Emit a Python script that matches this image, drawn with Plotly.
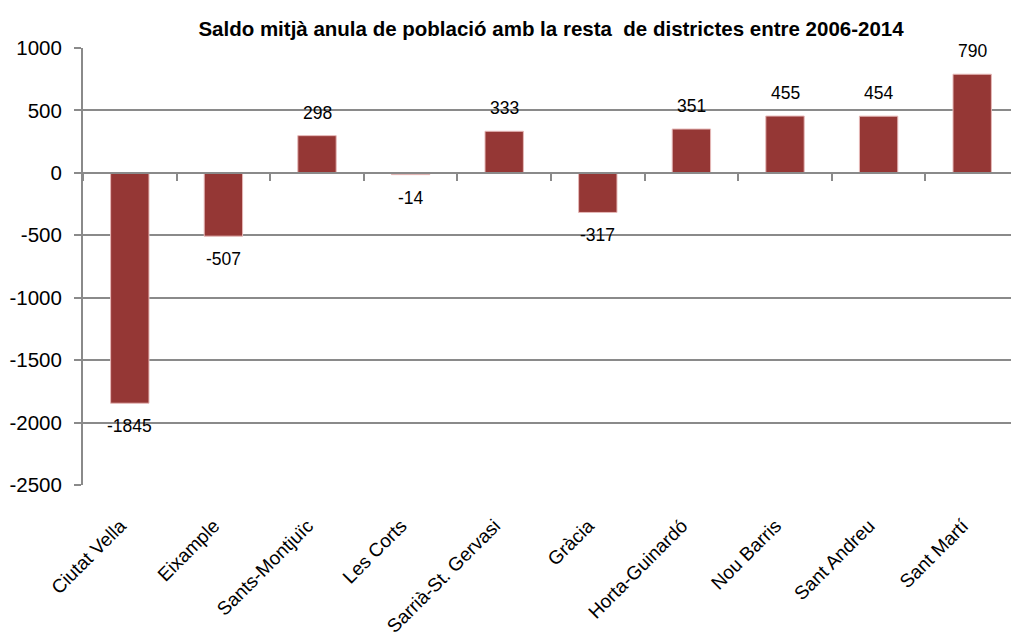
import plotly.graph_objects as go

categories = ["Ciutat Vella", "Eixample", "Sants-Montjuïc", "Les Corts", "Sarrià-St. Gervasi",
              "Gràcia", "Horta-Guinardó", "Nou Barris", "Sant Andreu", "Sant Martí"]
values = [-1845, -507, 298, -14, 333, -317, 351, 455, 454, 790]
y_ticks = [1000, 500, 0, -500, -1000, -1500, -2000, -2500]
title = "Saldo mitjà anula de població amb la resta  de districtes entre 2006-2014"

FONT = "Liberation Sans, Arial, sans-serif"
BAR = "#953735"
GRID = "#8a8a8a"
ymin, ymax = -2500, 1000
zero_pos = (0 - ymin) / (ymax - ymin)
n = len(categories)

fig = go.Figure()
fig.add_trace(go.Bar(
    x=categories, y=values, width=0.41,
    marker=dict(color=BAR, line=dict(color="#e6b9b8", width=1)),
    hoverinfo="x+y", showlegend=False,
))
# invisible trace carrying the bottom category-label axis
fig.add_trace(go.Scatter(
    x=categories, y=[0] * n, xaxis="x2", mode="markers",
    marker=dict(opacity=0), hoverinfo="skip", showlegend=False,
))

for c, v in zip(categories, values):
    fig.add_annotation(
        x=c, y=v, text=str(v), showarrow=False,
        yanchor="bottom" if v >= 0 else "top",
        yshift=11 if v >= 0 else -11,
        font=dict(family=FONT, size=17.5, color="#000000"),
    )

# page body has an 8px margin: compensate so the plot sits where the reference has it
fig.update_layout(
    width=1011, height=624,
    margin=dict(l=75, r=0, t=40, b=147, autoexpand=False),
    paper_bgcolor="white", plot_bgcolor="white",
    font=dict(family=FONT, color="#000000"),
    title=dict(text="<b>" + title + "</b>", x=0.5, xref="paper", xanchor="center",
               y=1 - 20.5 / 624, yref="container", yanchor="middle",
               font=dict(family=FONT, size=20.5, color="#000000")),
    xaxis=dict(
        type="category", categoryorder="array", categoryarray=categories,
        range=[-0.5, n - 0.5],
        anchor="free", position=zero_pos,
        showgrid=False, zeroline=False, showticklabels=False, automargin=False,
        showline=True, linecolor=GRID, linewidth=2,
        ticks="outside", tickson="boundaries", ticklen=7, tickwidth=2, tickcolor=GRID,
    ),
    xaxis2=dict(
        type="category", categoryorder="array", categoryarray=categories,
        range=[-0.4, n - 0.4], overlaying="x", anchor="y", side="bottom",
        showgrid=False, showline=False, zeroline=False, ticks="",
        tickangle=-45, ticklabelstandoff=25, automargin=False,
        tickfont=dict(family=FONT, size=19, color="#000000"),
    ),
    yaxis=dict(
        range=[ymin, ymax], tickvals=y_ticks, ticktext=[str(t) for t in y_ticks],
        showgrid=True, gridcolor=GRID, gridwidth=2, zeroline=False,
        showline=True, linecolor=GRID, linewidth=2, automargin=False,
        ticks="outside", ticklen=7, tickwidth=2, tickcolor=GRID,
        ticklabelstandoff=8,
        tickfont=dict(family=FONT, size=20.5, color="#000000"),
    ),
)

fig.write_html("out.html")
